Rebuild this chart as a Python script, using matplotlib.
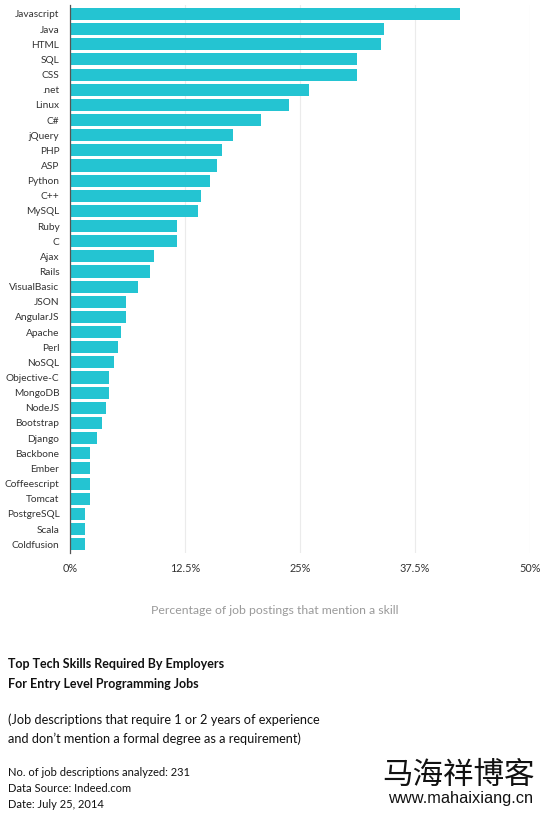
import matplotlib
matplotlib.use("Agg")
import matplotlib.pyplot as plt
from matplotlib.ticker import FixedLocator

skills = ["Javascript", "Java", "HTML", "SQL", "CSS", ".net", "Linux", "C#", "jQuery",
          "PHP", "ASP", "Python", "C++", "MySQL", "Ruby", "C", "Ajax", "Rails",
          "VisualBasic", "JSON", "AngularJS", "Apache", "Perl", "NoSQL", "Objective-C",
          "MongoDB", "NodeJS", "Bootstrap", "Django", "Backbone", "Ember",
          "Coffeescript", "Tomcat", "PostgreSQL", "Scala", "Coldfusion"]
percent = [42.4, 34.2, 33.8, 31.2, 31.2, 26.0, 23.8, 20.8, 17.7,
           16.5, 16.0, 15.2, 14.3, 13.9, 11.7, 11.7, 9.1, 8.7,
           7.4, 6.1, 6.1, 5.6, 5.2, 4.8, 4.3,
           4.3, 3.9, 3.5, 3.0, 2.2, 2.2,
           2.2, 2.2, 1.7, 1.7, 1.7]
xticks = [0, 12.5, 25, 37.5, 50]
xtick_labels = ["0%", "12.5%", "25%", "37.5%", "50%"]

plt.rcParams['font.family'] = ['Lato', 'DejaVu Sans']

fig = plt.figure(figsize=(5.5, 8.16), dpi=100)
ax = fig.add_axes([0.127, 0.322, 0.836, 0.672])

ypos = list(range(len(skills)))
ax.barh(ypos, percent, height=0.8, color="#24c4d2", zorder=2)
ax.set_ylim(len(skills) - 0.4, -0.6)
ax.set_xlim(0, 50)
ax.set_yticks(ypos)
ax.set_yticklabels(skills, fontsize=7.3, color="#333333")
ax.xaxis.set_major_locator(FixedLocator(xticks))
ax.set_xticklabels(xtick_labels, fontsize=7.8, color="#333333")
ax.tick_params(axis='y', length=0, pad=7.5)
ax.tick_params(axis='x', length=0, pad=7)
ax.grid(axis='x', color="#ebebeb", linewidth=0.8, zorder=0)
for s in ["top", "right", "bottom"]:
    ax.spines[s].set_visible(False)
ax.spines["left"].set_color("#555555")
ax.spines["left"].set_linewidth(0.9)
ax.spines["left"].set_zorder(3)

fig.text(0.5, 1 - 611 / 816, "Percentage of job postings that mention a skill",
         ha="center", va="center", fontsize=8.8, color="#9a9a9a")

fig.text(8 / 550, 1 - 664 / 816, "Top Tech Skills Required By Employers",
         ha="left", va="center", fontsize=9.0, color="#111111", fontweight="bold")
fig.text(8 / 550, 1 - 684 / 816, "For Entry Level Programming Jobs",
         ha="left", va="center", fontsize=9.0, color="#111111", fontweight="bold")
fig.text(8 / 550, 1 - 720 / 816, "(Job descriptions that require 1 or 2 years of experience",
         ha="left", va="center", fontsize=9.2, color="#111111")
fig.text(8 / 550, 1 - 739 / 816, "and don\u2019t mention a formal degree as a requirement)",
         ha="left", va="center", fontsize=9.2, color="#111111")
fig.text(8 / 550, 1 - 773 / 816, "No. of job descriptions analyzed: 231",
         ha="left", va="center", fontsize=8.0, color="#111111")
fig.text(8 / 550, 1 - 789 / 816, "Data Source: Indeed.com",
         ha="left", va="center", fontsize=8.0, color="#111111")
fig.text(8 / 550, 1 - 805 / 816, "Date: July 25, 2014",
         ha="left", va="center", fontsize=8.0, color="#111111")

fig.text(459 / 550, 1 - 775 / 816, "马海祥博客", ha="center", va="center",
         fontsize=22, color="#111111", family=["Noto Sans CJK SC", "DejaVu Sans"])
fig.text(461 / 550, 1 - 798 / 816, "www.mahaixiang.cn", ha="center", va="center",
         fontsize=11.8, color="#111111", family=["Liberation Sans", "DejaVu Sans"])

fig.savefig("out.png", dpi=100)
